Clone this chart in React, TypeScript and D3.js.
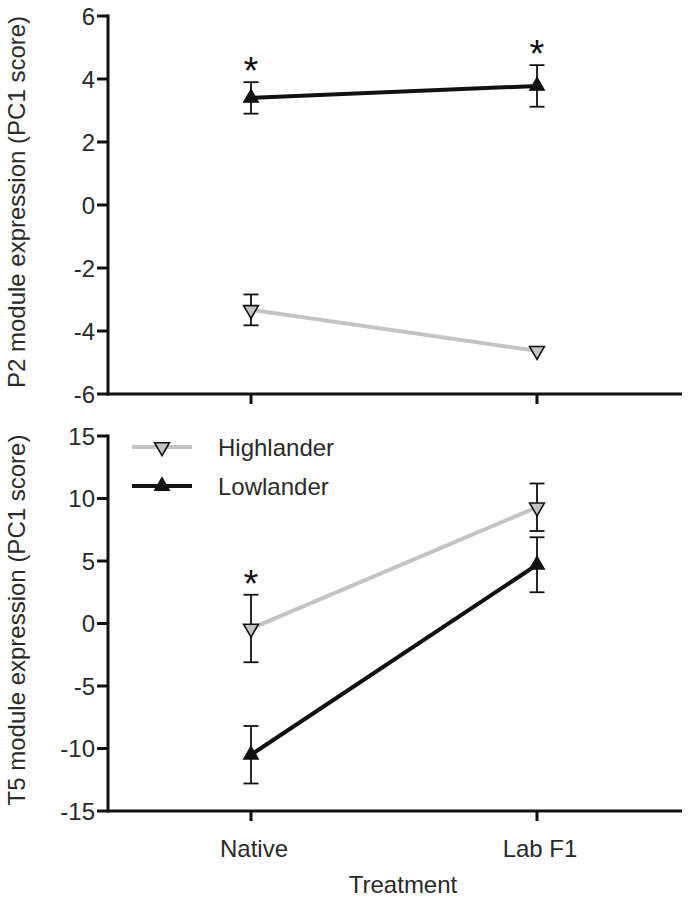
import React from "react";
import * as d3 from "d3";

const treatments = ["Native", "Lab F1"];
const seriesNames = ["Highlander", "Lowlander"];

// Top panel (P2 module)
const p2High = [-3.33, -4.63];
const p2HighErr = [0.49, 0.0];
const p2Low = [3.4, 3.78];
const p2LowErr = [0.5, 0.66];
const p2Stars = [true, true]; // asterisk over Lowlander

// Bottom panel (T5 module)
const t5High = [-0.4, 9.3];
const t5HighErr = [2.7, 1.9];
const t5Low = [-10.5, 4.7];
const t5LowErr = [2.3, 2.2];
const t5Stars = [true, false]; // asterisk over Highlander

const p2Ticks = [-6, -4, -2, 0, 2, 4, 6];
const t5Ticks = [-15, -10, -5, 0, 5, 10, 15];

const FONT = "Arial, 'Liberation Sans', Helvetica, sans-serif";
const GRAY = "#c3c3c3";
const DARK = "#111";
const TXT = "#2a2a2a";

const x = d3.scalePoint<string>().domain(treatments).range([108, 680]).padding(0.5);
const yTop = d3.scaleLinear().domain([-6, 6]).range([394, 16]);
const yBot = d3.scaleLinear().domain([-15, 15]).range([811, 436]);

const triUp = d3.symbol().type(d3.symbolTriangle).size(95)();

function Marker({ cx, cy, kind }: { cx: number; cy: number; kind: string }) {
  if (kind === "Highlander") {
    return (
      <path
        d={triUp || ""}
        transform={`translate(${cx},${cy}) rotate(180)`}
        fill={GRAY}
        stroke={DARK}
        strokeWidth={1.6}
      />
    );
  }
  return <path d={triUp || ""} transform={`translate(${cx},${cy})`} fill={DARK} stroke={DARK} strokeWidth={1.2} />;
}

function Series({ vals, kind, y }: { vals: number[]; kind: string; y: d3.ScaleLinear<number, number> }) {
  const line = d3
    .line<number>()
    .x((_, i) => x(treatments[i]) as number)
    .y((v) => y(v));
  return <path d={line(vals) || ""} fill="none" stroke={kind === "Highlander" ? GRAY : DARK} strokeWidth={4} />;
}

function ErrBars({ vals, errs, y }: { vals: number[]; errs: number[]; y: d3.ScaleLinear<number, number> }) {
  return (
    <g stroke={DARK} strokeWidth={1.8}>
      {vals.map((v, i) => {
        if (!errs[i]) return null;
        const cx = x(treatments[i]) as number;
        const y1 = y(v + errs[i]);
        const y2 = y(v - errs[i]);
        return (
          <g key={i}>
            <line x1={cx} x2={cx} y1={y1} y2={y2} />
            <line x1={cx - 7.5} x2={cx + 7.5} y1={y1} y2={y1} />
            <line x1={cx - 7.5} x2={cx + 7.5} y1={y2} y2={y2} />
          </g>
        );
      })}
    </g>
  );
}

function Markers({ vals, kind, y }: { vals: number[]; kind: string; y: d3.ScaleLinear<number, number> }) {
  return (
    <g>
      {vals.map((v, i) => (
        <Marker key={i} cx={x(treatments[i]) as number} cy={y(v)} kind={kind} />
      ))}
    </g>
  );
}

function Stars({
  flags,
  vals,
  errs,
  y,
}: {
  flags: boolean[];
  vals: number[];
  errs: number[];
  y: d3.ScaleLinear<number, number>;
}) {
  return (
    <g>
      {flags.map((f, i) =>
        f ? (
          <text
            key={i}
            x={x(treatments[i]) as number}
            y={y(vals[i] + errs[i]) + 2}
            textAnchor="middle"
            fontSize={38}
            fontFamily={FONT}
            fill={DARK}
          >
            *
          </text>
        ) : null
      )}
    </g>
  );
}

function YAxis({ y, ticks }: { y: d3.ScaleLinear<number, number>; ticks: number[] }) {
  const [r0, r1] = y.range();
  return (
    <g>
      <line x1={108} x2={108} y1={r1 - 1.5} y2={r0 + 1.5} stroke={DARK} strokeWidth={3} />
      {ticks.map((t) => (
        <g key={t}>
          <line x1={97} x2={108} y1={y(t)} y2={y(t)} stroke={DARK} strokeWidth={3} />
          <text
            x={95}
            y={y(t)}
            textAnchor="end"
            dominantBaseline="central"
            fontSize={24}
            fontFamily={FONT}
            fill={TXT}
          >
            {t}
          </text>
        </g>
      ))}
    </g>
  );
}

function XAxis({ yPos, labels }: { yPos: number; labels: boolean }) {
  return (
    <g>
      <line x1={106.5} x2={682} y1={yPos} y2={yPos} stroke={DARK} strokeWidth={3} />
      {treatments.map((t) => (
        <g key={t}>
          <line x1={x(t) as number} x2={x(t) as number} y1={yPos} y2={yPos + 10} stroke={DARK} strokeWidth={3} />
          {labels ? (
            <text
              x={(x(t) as number) + 3}
              y={yPos + 46}
              textAnchor="middle"
              fontSize={24}
              fontFamily={FONT}
              fill={TXT}
            >
              {t}
            </text>
          ) : null}
        </g>
      ))}
    </g>
  );
}

export default function App() {
  return (
    <svg
      width={689}
      height={899}
      style={{ position: "absolute", left: 0, top: 0, background: "#fff", display: "block" }}
    >
      <rect width={689} height={899} fill="#fff" />
      {/* Top panel */}
      <Series vals={p2High} kind="Highlander" y={yTop} />
      <Series vals={p2Low} kind="Lowlander" y={yTop} />
      <ErrBars vals={p2High} errs={p2HighErr} y={yTop} />
      <ErrBars vals={p2Low} errs={p2LowErr} y={yTop} />
      <Markers vals={p2High} kind="Highlander" y={yTop} />
      <Markers vals={p2Low} kind="Lowlander" y={yTop} />
      <Stars flags={p2Stars} vals={p2Low} errs={p2LowErr} y={yTop} />
      <YAxis y={yTop} ticks={p2Ticks} />
      <XAxis yPos={394} labels={false} />
      <text
        transform={`translate(16,202) rotate(-90)`}
        textAnchor="middle"
        dominantBaseline="central"
        fontSize={24}
        fontFamily={FONT}
        fill={TXT}
      >
        P2 module expression (PC1 score)
      </text>

      {/* Bottom panel */}
      <Series vals={t5High} kind="Highlander" y={yBot} />
      <Series vals={t5Low} kind="Lowlander" y={yBot} />
      <ErrBars vals={t5High} errs={t5HighErr} y={yBot} />
      <ErrBars vals={t5Low} errs={t5LowErr} y={yBot} />
      <Markers vals={t5High} kind="Highlander" y={yBot} />
      <Markers vals={t5Low} kind="Lowlander" y={yBot} />
      <Stars flags={t5Stars} vals={t5High} errs={t5HighErr} y={yBot} />
      <YAxis y={yBot} ticks={t5Ticks} />
      <XAxis yPos={811} labels={true} />
      <text
        transform={`translate(16,620) rotate(-90)`}
        textAnchor="middle"
        dominantBaseline="central"
        fontSize={24}
        fontFamily={FONT}
        fill={TXT}
      >
        T5 module expression (PC1 score)
      </text>
      <text x={403} y={893} textAnchor="middle" fontSize={24} fontFamily={FONT} fill={TXT}>
        Treatment
      </text>

      {/* Legend */}
      {seriesNames.map((s, i) => {
        const ly = 447 + i * 39;
        return (
          <g key={s}>
            <line x1={132} x2={192} y1={ly} y2={ly} stroke={s === "Highlander" ? GRAY : DARK} strokeWidth={4} />
            <Marker cx={162} cy={ly} kind={s} />
            <text x={218} y={ly} dominantBaseline="central" fontSize={24} fontFamily={FONT} fill={TXT}>
              {s}
            </text>
          </g>
        );
      })}
    </svg>
  );
}
